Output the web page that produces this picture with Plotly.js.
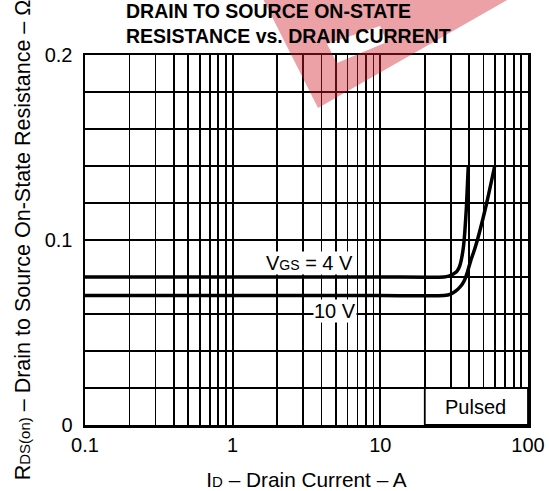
<!DOCTYPE html>
<html>
<head>
<meta charset="utf-8">
<script src="https://cdn.plot.ly/plotly-3.0.1.min.js"></script>
<style>html,body{margin:0;padding:0;background:#fff;}#chart{width:549px;height:491px;}</style>
</head>
<body>
<div id="chart"></div>
<script>
// ---- data ----
var idVgs4 = [0.1, 1, 10, 27, 29, 31, 33, 34.5, 35.5, 36.5, 37.3, 38.3, 39.4];
var rdsVgs4 = [0.080, 0.080, 0.080, 0.080, 0.0805, 0.0815, 0.083, 0.086, 0.090, 0.096, 0.104, 0.118, 0.140];
var idVgs10 = [0.1, 1, 10, 27, 30, 32.5, 35, 37, 39, 41, 43.5, 46.5, 52.5, 59.5];
var rdsVgs10 = [0.070, 0.070, 0.070, 0.070, 0.0708, 0.0725, 0.075, 0.078, 0.083, 0.089, 0.095, 0.103, 0.120, 0.140];
var seriesLabels = ["V<span style=\"font-size:14px\">GS</span> = 4 V", "10 V"];
var xTickVals = [0.1,0.2,0.3,0.4,0.5,0.6,0.7,0.8,0.9,1,2,3,4,5,6,7,8,9,10,20,30,40,50,60,70,80,90,100];
var xTickText = ["0.1","","","","","","","","","1","","","","","","","","","10","","","","","","","","","100"];
var yTickVals = [0,0.02,0.04,0.06,0.08,0.1,0.12,0.14,0.16,0.18,0.2];
var yTickText = ["0","","","","","0.1","","","","","0.2"];
var titleLines = ["DRAIN TO SOURCE ON-STATE", "RESISTANCE vs. DRAIN CURRENT"];
var xTitle = "I<span style=\"font-size:15px\">D</span> – Drain Current – A";
var yTitle = "R<span style=\"font-size:15px\">DS(on)</span> – Drain to Source On-State Resistance – Ω";
var noteText = "Pulsed";

// ---- layout geometry ----
var W = 549, H = 491;
var M = {l: 85, r: 21, t: 55, b: 66};
var PW = W - M.l - M.r, PH = H - M.t - M.b;
function pyToPaper(py) { return (H - M.b - py) / PH; }
function pxToPaper(px) { return (px - M.l) / PW; }
function logPaper(v) { return (Math.log10(v) + 1) / 3; }
var FONT = "Liberation Sans, Arial, Helvetica, sans-serif";

var lineStyle = {color: "#000", width: 3.5, shape: "spline", smoothing: 0.6};
var traces = [
  {x: idVgs4, y: rdsVgs4, type: "scatter", mode: "lines", line: lineStyle, name: "VGS = 4 V", hoverinfo: "skip"},
  {x: idVgs10, y: rdsVgs10, type: "scatter", mode: "lines", line: lineStyle, name: "VGS = 10 V", hoverinfo: "skip"}
];

// watermark polygon (pixel coords -> paper)
function P(px, py) { return pxToPaper(px).toFixed(4) + "," + pyToPaper(py).toFixed(4); }
var wmPath = "M" + P(261, -5) + " L" + P(516, -5) + " L" + P(318, 108) + " Z " +
             "M" + P(327, 44) + " L" + P(380, 26) + " L" + P(387, 42) + " L" + P(337, 63) + " Z";

var layout = {
  width: W, height: H,
  margin: M,
  paper_bgcolor: "#fff", plot_bgcolor: "#fff",
  showlegend: false,
  font: {family: FONT, color: "#000", size: 20},
  xaxis: {
    type: "log", range: [-1, 2],
    tickvals: xTickVals, ticktext: xTickText,
    ticks: "", ticklabelstandoff: 0,
    showgrid: true, gridcolor: "#000", gridwidth: 1.8,
    showline: true, linecolor: "#000", linewidth: 2.5, mirror: true,
    zeroline: false,
    tickfont: {size: 20, family: FONT},
    title: {text: xTitle, font: {size: 20.8, family: FONT}, standoff: 22}
  },
  yaxis: {
    range: [0, 0.2],
    tickvals: yTickVals, ticktext: yTickText,
    ticks: "", ticklabelstandoff: 6,
    showgrid: true, gridcolor: "#000", gridwidth: 1.8,
    showline: true, linecolor: "#000", linewidth: 2.5, mirror: true,
    zeroline: false,
    tickfont: {size: 20, family: FONT},
    title: {text: yTitle, font: {size: 21.5, family: FONT}, standoff: 8}
  },
  shapes: [
    {type: "rect", xref: "paper", yref: "y", x0: logPaper(20), x1: 1, y0: 0, y1: 0.02,
     fillcolor: "#fff", line: {color: "#000", width: 1.8}, layer: "above"},
    {type: "path", xref: "paper", yref: "paper", path: wmPath, fillrule: "evenodd",
     fillcolor: "rgba(210,30,45,0.42)", line: {width: 0}, layer: "above"}
  ],
  annotations: [
    {xref: "paper", yref: "paper", x: pxToPaper(125), y: pyToPaper(-1), xanchor: "left", yanchor: "top",
     align: "left", borderpad: 0,
     text: "<b>" + titleLines[0] + "<br>" + titleLines[1] + "</b>", showarrow: false, font: {size: 19.5, family: FONT}},
    {xref: "x", yref: "y", x: Math.log10(3.3), y: 0.0875, text: seriesLabels[0], showarrow: false,
     bgcolor: "#fff", borderpad: 0, font: {size: 20, family: FONT}},
    {xref: "x", yref: "y", x: Math.log10(4.9), y: 0.0615, text: seriesLabels[1], showarrow: false,
     bgcolor: "#fff", borderpad: 0, font: {size: 20, family: FONT}},
    {xref: "x", yref: "y", x: Math.log10(44), y: 0.0098, text: noteText, showarrow: false,
     font: {size: 20, family: FONT}}
  ]
};

Plotly.newPlot("chart", traces, layout, {staticPlot: true, displayModeBar: false});
</script>
</body>
</html>
